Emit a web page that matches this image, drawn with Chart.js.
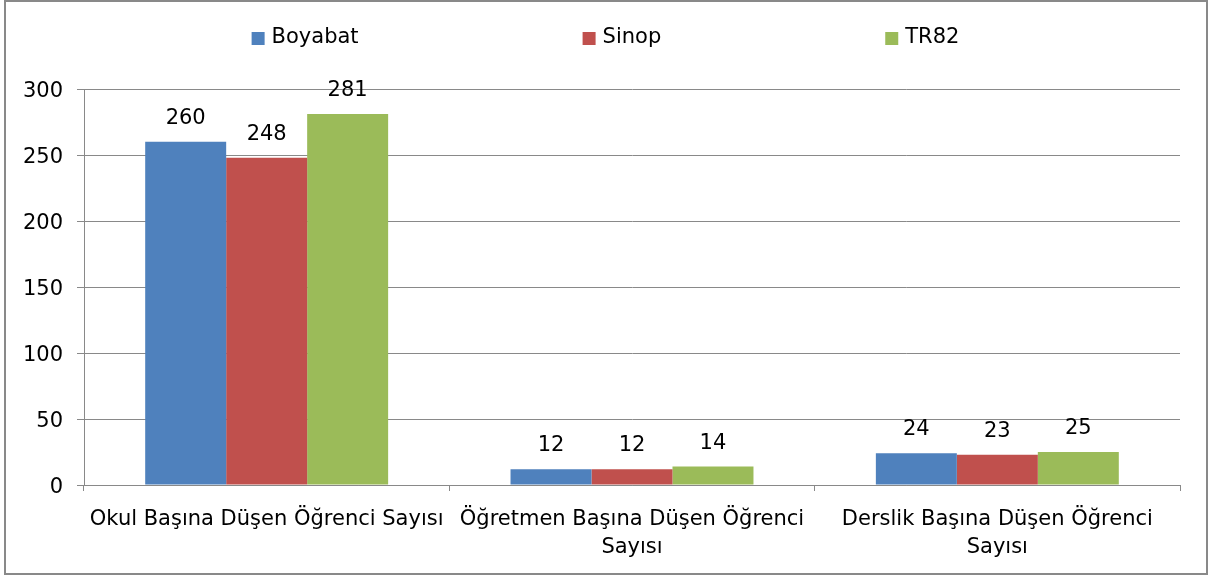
<!DOCTYPE html>
<html lang="tr">
<head>
    <meta charset="UTF-8">
    <title>Öğrenci Sayısı</title>
    <script src="https://cdn.jsdelivr.net/npm/chart.js"></script>
    <style>
        html, body { margin: 0; padding: 0; background: #fff; }
        #wrap { position: relative; width: 1211px; height: 576px; }
    </style>
</head>
<body>
    <div id="wrap"><canvas id="chart"></canvas></div>

    <script>
        // Data
        const categories = [
            'Okul Başına Düşen Öğrenci Sayısı',
            ['Öğretmen Başına Düşen Öğrenci', 'Sayısı'],
            ['Derslik Başına Düşen Öğrenci', 'Sayısı']
        ];
        const seriesNames = ['Boyabat', 'Sinop', 'TR82'];
        const boyabat = [260, 12, 24];
        const sinop = [248, 12, 23];
        const tr82 = [281, 14, 25];
        const yTicks = [0, 50, 100, 150, 200, 250, 300];

        const colors = ['#4F81BD', '#C0504D', '#9BBB59'];
        const gridColor = '#898989';
        const FONT = '"DejaVu Sans", Tahoma, sans-serif';

        // outer frame
        const framePlugin = {
            id: 'frame',
            beforeDraw(chart) {
                const ctx = chart.ctx;
                ctx.save();
                ctx.fillStyle = '#fff';
                ctx.fillRect(0, 0, chart.width, chart.height);
                ctx.strokeStyle = gridColor;
                ctx.lineWidth = 2;
                ctx.strokeRect(5, 1, 1202, 573);
                ctx.restore();
            }
        };

        // legend spread across the top, like the original
        const legendPlugin = {
            id: 'topLegend',
            afterDraw(chart) {
                const ctx = chart.ctx;
                ctx.save();
                ctx.font = '21px ' + FONT;
                ctx.textBaseline = 'middle';
                const box = 13, gap = 7, spacing = 224;
                const items = chart.data.datasets.map(d => ({
                    label: d.label, color: d.backgroundColor,
                    w: box + gap + ctx.measureText(d.label).width
                }));
                const total = items.reduce((s, it) => s + it.w, 0) + spacing * (items.length - 1);
                let x = (chart.width - total) / 2;
                const cy = 38;
                items.forEach(it => {
                    ctx.fillStyle = it.color;
                    ctx.fillRect(x, cy - 6, box, box);
                    ctx.fillStyle = '#000';
                    ctx.fillText(it.label, x + box + gap, cy);
                    x += it.w + spacing;
                });
                ctx.restore();
            }
        };

        // values above the bars
        const valueLabels = {
            id: 'valueLabels',
            afterDatasetsDraw(chart) {
                const ctx = chart.ctx;
                ctx.save();
                ctx.font = '21px ' + FONT;
                ctx.fillStyle = '#000';
                ctx.textAlign = 'center';
                ctx.textBaseline = 'alphabetic';
                chart.data.datasets.forEach((ds, i) => {
                    chart.getDatasetMeta(i).data.forEach((bar, j) => {
                        ctx.fillText(ds.data[j], bar.x, bar.y - 18);
                    });
                });
                ctx.restore();
            }
        };

        const seriesData = [boyabat, sinop, tr82];

        new Chart(document.getElementById('chart'), {
            type: 'bar',
            data: {
                labels: categories,
                datasets: seriesNames.map((name, i) => ({
                    label: name,
                    data: seriesData[i],
                    backgroundColor: colors[i],
                    borderWidth: 0,
                    categoryPercentage: 0.665,
                    barPercentage: 1.0
                }))
            },
            options: {
                responsive: true,
                maintainAspectRatio: false,
                animation: false,
                layout: { padding: { top: 89, right: 31, bottom: 0, left: 0 } },
                plugins: {
                    legend: { display: false },
                    tooltip: { enabled: false }
                },
                scales: {
                    x: {
                        offset: true,
                        grid: {
                            offset: true,
                            drawOnChartArea: false,
                            drawTicks: true,
                            tickLength: 6,
                            color: gridColor
                        },
                        border: { color: gridColor, width: 1 },
                        ticks: {
                            color: '#000',
                            font: { family: FONT, size: 21, lineHeight: 1.35 },
                            maxRotation: 0,
                            minRotation: 0,
                            autoSkip: false,
                            padding: 14
                        },
                        afterFit: s => { s.height = 91; }
                    },
                    y: {
                        min: 0,
                        max: 300,
                        afterBuildTicks: s => { s.ticks = yTicks.map(v => ({ value: v })); },
                        grid: {
                            color: gridColor,
                            tickLength: 7,
                            lineWidth: 1
                        },
                        border: { color: gridColor, width: 1 },
                        ticks: {
                            color: '#000',
                            font: { family: FONT, size: 21 },
                            padding: 14,
                            labelOffset: 3
                        },
                        afterFit: s => { s.width = 84; }
                    }
                }
            },
            plugins: [framePlugin, legendPlugin, valueLabels]
        });
    </script>
</body>
</html>
